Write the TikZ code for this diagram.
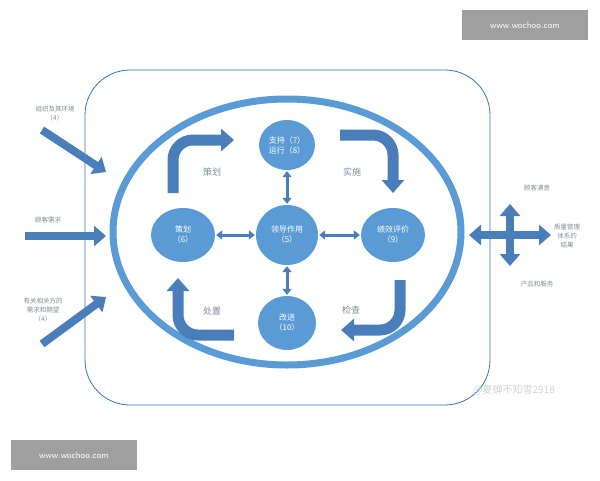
\documentclass[tikz,border=0pt]{standalone}
\usepackage{fontspec}
\newfontfamily\cjk{Noto Sans CJK SC}
\usetikzlibrary{arrows.meta}
\definecolor{ab}{HTML}{4A7EBB}
\definecolor{cb}{HTML}{5B9BD5}
\definecolor{bd}{HTML}{2E75B6}
\definecolor{tg}{HTML}{7F8C9A}
\begin{document}
\begin{tikzpicture}[x=1pt,y=-1pt,font=\cjk,
  circ/.style={ellipse,fill=cb,text=white,font=\cjk\fontsize{8}{10}\selectfont,align=center,inner sep=0pt},
  blk/.style={draw=ab,line width=11pt,-{Triangle[width=22pt,length=13pt]},rounded corners=20pt},
  thin2/.style={draw=ab,line width=3pt,{Triangle[width=9pt,length=6pt]}-{Triangle[width=9pt,length=6pt]},shorten <=1pt,shorten >=1pt},
  side/.style={draw=ab,line width=8pt,-{Triangle[width=20pt,length=12pt]}},
  lab/.style={text=tg,font=\cjk\fontsize{9}{11}\selectfont},
  sm/.style={text=tg,font=\cjk\fontsize{6.5}{9}\selectfont,align=center},
  wm/.style={fill=gray!75,text=white,font=\fontsize{9}{11}\selectfont\sffamily,minimum width=126pt,minimum height=30pt}]
\useasboundingbox (0,0) rectangle (600,480);
\usetikzlibrary{shapes.geometric}
\draw[bd,line width=0.8pt,rounded corners=45pt] (85,70) rectangle (490,405);
\draw[cb,line width=7pt] (287,232) ellipse [x radius=174pt,y radius=133pt];
\node[circ,minimum width=56pt,minimum height=50pt] (sup) at (287,145) {支持（7）\\运行（8）};
\node[circ,minimum width=62pt,minimum height=60pt] (lead) at (287,235) {领导作用\\（5）};
\node[circ,minimum width=58pt,minimum height=54pt] (imp) at (287,323) {改进\\（10）};
\node[circ,minimum width=64pt,minimum height=54pt] (plan) at (183,235) {策划\\（6）};
\node[circ,minimum width=64pt,minimum height=54pt] (eval) at (393,235) {绩效评价\\（9）};
\draw[thin2] (lead) -- (sup);
\draw[thin2] (lead) -- (imp);
\draw[thin2] (lead) -- (plan);
\draw[thin2] (lead) -- (eval);
\coordinate (a1) at (173,193); \coordinate (a1e) at (234,140);
\draw[blk] (a1) |- (a1e);
\coordinate (a2) at (340,135); \coordinate (a2e) at (393,193);
\draw[blk] (a2) -| (a2e);
\coordinate (a3) at (400,280); \coordinate (a3e) at (341,330);
\draw[blk] (a3) |- (a3e);
\coordinate (a4) at (234,335); \coordinate (a4e) at (178,278);
\draw[blk] (a4) -| (a4e);
\node[lab] (l1) at (212,172) {策划};
\node[lab] (l2) at (352,172) {实施};
\node[lab] (l3) at (351,310) {检查};
\node[lab] (l4) at (212,311) {处置};
\node[sm] (t1) at (55,114) {组织及其环境\\（4）};
\node[sm] (t2) at (48,220) {顾客需求};
\node[sm] (t3) at (43,310) {有关相关方的\\需求和期望\\（4）};
\coordinate (s1) at (42,130); \coordinate (s1e) at (106,172);
\coordinate (s2) at (25,236); \coordinate (s2e) at (106,236);
\coordinate (s3) at (42,344); \coordinate (s3e) at (106,297);
\draw[side] (s1) -- (s1e);
\draw[side] (s2) -- (s2e);
\draw[side] (s3) -- (s3e);
\coordinate (c) at (510,235);
\coordinate (cl) at (469,235); \coordinate (cr) at (551,235);
\coordinate (cu) at (510,204); \coordinate (cd) at (510,266);
\draw[side,{Triangle[width=20pt,length=12pt]}-{Triangle[width=20pt,length=12pt]}] (cl) -- (cr);
\draw[side,{Triangle[width=20pt,length=12pt]}-{Triangle[width=20pt,length=12pt]}] (cu) -- (cd);
\node[sm] (r1) at (537,188) {顾客满意};
\node[sm] (r2) at (567,236) {质量管理\\体系的\\结果};
\node[sm] (r3) at (537,284) {产品和服务};
\node[wm] (w1) at (525,25) {www.wochoo.com};
\node[wm] (w2) at (74,455) {www.wochoo.com};
\node[text=gray!35,font=\cjk\fontsize{10}{12}\selectfont] (w3) at (514,390) {@夏蝉不知雪2918};
\end{tikzpicture}
\end{document}
